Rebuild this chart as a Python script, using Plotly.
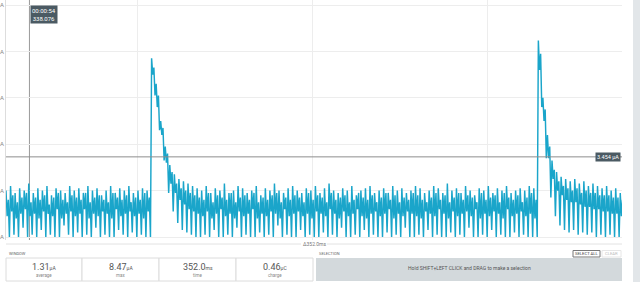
import plotly.graph_objects as go

# ---------------- data ----------------
cycle_ms = 2.6  # period of the repeating current pattern

cycle_peak_uA = [
    2.0, 2.2, 1.9, 2.1, 2.0, 2.3, 1.9, 2.1, 2.0, 2.2, 1.8, 2.1, 2.0, 1.9, 2.2, 2.0,
    2.1, 1.9, 2.2, 2.0, 2.1, 1.8, 2.0, 2.2, 1.9, 2.1, 2.0, 2.2, 1.9, 2.0, 2.1, 2.0,
    7.7, 6.6, 5.0, 3.9, 3.1, 2.7, 2.5, 2.4, 2.3, 2.2,
    2.1, 2.0, 2.2, 1.9, 2.1, 2.0, 2.3, 1.9, 2.0, 2.2, 2.1, 1.9, 2.0, 2.2, 1.8, 2.1, 2.0, 2.3, 2.0, 1.9, 2.1, 2.2, 2.0, 1.9, 2.1,
    2.0, 2.2, 1.9, 2.1, 2.3, 2.0, 1.9, 2.1, 2.0, 2.2, 1.8, 2.0, 2.1, 2.2, 1.9, 2.0, 2.1, 1.9, 2.2, 2.0, 2.1, 1.9, 2.0, 2.2, 2.1,
    1.9, 2.0, 2.2, 2.1, 1.9, 2.3, 2.0, 2.1, 1.9, 2.2, 2.0, 1.8, 2.1, 2.0, 2.2, 1.9, 2.1, 2.0, 2.2, 1.9, 2.0, 2.1, 2.0, 2.2, 2.1,
    8.47, 6.0, 4.4, 3.3, 2.8, 2.6, 2.5, 2.4, 2.5, 2.3, 2.4, 2.2, 2.3, 2.2, 2.1, 2.2, 2.0, 2.1, 1.9,
]
cycle_plateau_a_uA = [
    0.9, 1.1, 0.8, 1.0, 1.2, 0.9, 1.0, 0.8, 1.1, 1.0, 0.9, 1.2, 0.8, 1.0, 1.1, 0.9,
    1.0, 1.2, 0.8, 1.0, 0.9, 1.1, 1.0, 0.8, 1.2, 0.9, 1.0, 1.1, 0.9, 1.0, 0.8, 1.1,
    7.0, 5.6, 4.4, 3.2, 2.3, 1.9, 1.6, 1.4, 1.2, 1.1,
    1.0, 0.9, 1.1, 0.8, 1.0, 1.2, 0.9, 1.0, 0.8, 1.1, 0.9, 1.0, 1.2, 0.8, 1.0, 0.9, 1.1, 1.0, 0.8, 1.2, 0.9, 1.0, 1.1, 0.9, 1.0,
    0.8, 1.1, 1.0, 0.9, 1.2, 1.0, 0.8, 1.1, 0.9, 1.0, 1.2, 0.9, 0.8, 1.0, 1.1, 0.9, 1.0, 1.2, 0.8, 1.0, 0.9, 1.1, 1.0, 0.9, 0.8,
    1.1, 1.0, 0.9, 1.2, 1.0, 0.8, 1.1, 0.9, 1.0, 1.1, 0.9, 1.2, 0.8, 1.0, 0.9, 1.1, 1.0, 0.8, 1.2, 0.9, 1.0, 1.1, 0.9, 1.0, 0.8,
    7.2, 5.0, 3.4, 2.5, 2.0, 1.8, 1.6, 1.5, 1.5, 1.4, 1.3, 1.3, 1.2, 1.2, 1.1, 1.1, 1.0, 1.0, 0.9,
]
cycle_plateau_b_uA = [
    1.6, 1.8, 1.5, 1.7, 1.9, 1.5, 1.7, 1.6, 1.8, 1.4, 1.7, 1.9, 1.6, 1.5, 1.8, 1.7,
    1.6, 1.9, 1.5, 1.7, 1.8, 1.6, 1.5, 1.9, 1.7, 1.6, 1.8, 1.5, 1.7, 1.6, 1.9, 1.7,
    7.3, 6.1, 4.7, 3.6, 2.8, 2.3, 2.1, 2.0, 1.9, 1.8,
    1.7, 1.6, 1.9, 1.5, 1.8, 1.7, 1.6, 1.9, 1.5, 1.7, 1.8, 1.6, 1.9, 1.5, 1.7, 1.6, 1.8, 1.9, 1.5, 1.7, 1.6, 1.8, 1.7, 1.5, 1.9,
    1.6, 1.8, 1.7, 1.5, 1.9, 1.6, 1.7, 1.8, 1.5, 1.6, 1.9, 1.7, 1.6, 1.8, 1.5, 1.7, 1.9, 1.6, 1.8, 1.5, 1.7, 1.6, 1.9, 1.8, 1.6,
    1.5, 1.7, 1.9, 1.6, 1.8, 1.5, 1.7, 1.9, 1.6, 1.8, 1.7, 1.5, 1.9, 1.6, 1.7, 1.8, 1.5, 1.9, 1.7, 1.6, 1.8, 1.5, 1.7, 1.9, 1.6,
    7.9, 5.5, 3.9, 2.9, 2.4, 2.2, 2.1, 2.0, 2.1, 1.9, 2.0, 1.9, 1.9, 1.8, 1.8, 1.8, 1.7, 1.7, 1.6,
]
cycle_floor_uA = [
    0.0, 0.1, 0.0, 0.4, 0.0, 0.1, 0.0, 0.3, 0.0, 0.1, 0.0, 0.0, 0.5, 0.1, 0.0, 0.2,
    0.0, 0.1, 0.0, 0.4, 0.0, 0.1, 0.0, 0.0, 0.3, 0.1, 0.0, 0.2, 0.0, 0.1, 0.0, 0.0,
    6.1, 4.6, 3.3, 1.9, 1.1, 0.6, 0.3, 0.2, 0.1, 0.0,
    0.0, 0.1, 0.0, 0.3, 0.0, 0.0, 0.1, 0.0, 0.4, 0.0, 0.1, 0.0, 0.0, 0.2, 0.0, 0.1, 0.0, 0.5, 0.0, 0.1, 0.0, 0.0, 0.3, 0.0, 0.1,
    0.0, 0.0, 0.2, 0.0, 0.1, 0.0, 0.4, 0.0, 0.0, 0.1, 0.0, 0.3, 0.0, 0.1, 0.0, 0.0, 0.2, 0.0, 0.1, 0.0, 0.4, 0.0, 0.0, 0.1, 0.0,
    0.3, 0.0, 0.1, 0.0, 0.0, 0.2, 0.0, 0.1, 0.0, 0.4, 0.0, 0.0, 0.1, 0.0, 0.3, 0.0, 0.1, 0.0, 0.0, 0.2, 0.0, 0.1, 0.0, 0.0, 0.0,
    5.6, 3.4, 1.7, 0.9, 0.5, 0.3, 0.2, 0.3, 0.1, 0.2, 0.1, 0.2, 0.0, 0.1, 0.0, 0.1, 0.0, 0.0, 0.0,
]

y_tick_values = [0, 2, 4, 6, 8, 10]
y_tick_labels = ["0 µA", "2 µA", "4 µA", "6 µA", "8 µA", "10 µA"]
x_grid_ms = [75, 175, 275]
window_ms = 352.0

cursor_time_ms = 13.4
cursor_time_label = "00:00:54<br>338.076"
cursor_level_uA = 3.454
cursor_level_label = "3.454 µA"
delta_label = "Δ352.0ms"

stat_values = ["1.31", "8.47", "352.0", "0.46"]
stat_units = ["µA", "µA", "ms", "µC"]
stat_names = ["average", "max", "time", "charge"]

# ---------------- build samples ----------------
t, cur = [], []
for k in range(len(cycle_peak_uA)):
    base = k * cycle_ms
    for j, v in enumerate((cycle_peak_uA[k], cycle_plateau_a_uA[k],
                           cycle_plateau_b_uA[k], cycle_floor_uA[k])):
        t.append(base + j * cycle_ms / 4)
        cur.append(v)

FONT = "Roboto"
W, H = 640, 282
L, R = 6, 622
TOP, BOT = 0, 240


def px(x):
    return (x - L) / (R - L)


def py(y):
    return (BOT - y) / (BOT - TOP)


def label(x, y, text, size, color, xanchor="center"):
    return dict(x=px(x), y=py(y), xref="paper", yref="paper", text=text, showarrow=False,
                xanchor=xanchor, yanchor="middle", font=dict(family=FONT, size=size, color=color))


fig = go.Figure()
fig.add_trace(go.Scatter(x=t, y=cur, mode="lines",
                         line=dict(color="#1aa5ca", width=1.45),
                         hoverinfo="skip", showlegend=False))

shapes = []
annotations = []

# cursors
shapes.append(dict(type="line", xref="x", yref="paper", x0=cursor_time_ms, x1=cursor_time_ms,
                   y0=0, y1=1, line=dict(color="#9a9a9a", width=1), layer="below"))
shapes.append(dict(type="line", xref="paper", yref="y", x0=0, x1=1, y0=cursor_level_uA,
                   y1=cursor_level_uA, line=dict(color="#8e8e8e", width=1), layer="above"))
annotations.append(dict(x=cursor_time_ms, xref="x", y=py(5), yref="paper", xanchor="left",
                        yanchor="top", xshift=1, text=cursor_time_label, showarrow=False,
                        bgcolor="#4b5a63", borderpad=1,
                        font=dict(family=FONT, size=6, color="white"), align="center"))
annotations.append(dict(x=px(621), xref="paper", y=cursor_level_uA, yref="y", xanchor="right",
                        yanchor="middle", text=cursor_level_label, showarrow=False,
                        bgcolor="#4b5a63", borderpad=1,
                        font=dict(family=FONT, size=5.5, color="white")))

# delta line
shapes.append(dict(type="line", xref="paper", yref="paper", x0=px(6), x1=px(301), y0=py(244), y1=py(244),
                   line=dict(color="#e2e2e2", width=1)))
shapes.append(dict(type="line", xref="paper", yref="paper", x0=px(327), x1=px(622), y0=py(244), y1=py(244),
                   line=dict(color="#e2e2e2", width=1)))
annotations.append(label(314, 244, delta_label, 5, "#777"))

# window stats
annotations.append(label(7, 253, "WINDOW", 4, "#666", "left"))
box_edges = [6, 82, 159, 236, 313]
for i in range(4):
    x0, x1 = box_edges[i], box_edges[i + 1]
    shapes.append(dict(type="rect", xref="paper", yref="paper", x0=px(x0), x1=px(x1),
                       y0=py(281), y1=py(258), line=dict(color="#dcdcdc", width=1), fillcolor="white"))
    cx = (x0 + x1) / 2
    annotations.append(label(cx, 266.5,
                             f"{stat_values[i]}<span style='font-size:5px'>{stat_units[i]}</span>",
                             9, "#555"))
    annotations.append(label(cx, 275, stat_names[i], 4.5, "#888"))

# selection panel
annotations.append(label(317, 253, "SELECTION", 4, "#666", "left"))
shapes.append(dict(type="rect", xref="paper", yref="paper", x0=px(316), x1=px(622),
                   y0=py(281), y1=py(258), line=dict(width=0), fillcolor="#d3d9dc"))
annotations.append(label(469, 268, "Hold SHIFT+LEFT CLICK and DRAG to make a selection", 5, "#555"))
shapes.append(dict(type="rect", xref="paper", yref="paper", x0=px(573), x1=px(600),
                   y0=py(257), y1=py(250.5), line=dict(color="#777", width=1), fillcolor="white"))
annotations.append(label(586.5, 253.8, "SELECT ALL", 4.2, "#444"))
shapes.append(dict(type="rect", xref="paper", yref="paper", x0=px(602), x1=px(621),
                   y0=py(257), y1=py(250.5), line=dict(color="#e6e6e6", width=1), fillcolor="white"))
annotations.append(label(611.5, 253.8, "CLEAR", 4.2, "#bbb"))

# right side strip
shapes.append(dict(type="rect", xref="paper", yref="paper", x0=px(633), x1=px(641),
                   y0=py(283), y1=py(-1), line=dict(width=0), fillcolor="#e2e6e9"))

y_lo = -(BOT - 237) / 23.2
y_hi = 10 + 5 / 23.2

fig.update_layout(
    width=W, height=H,
    margin=dict(l=L, r=W - R, t=TOP, b=H - BOT, autoexpand=False),
    paper_bgcolor="white", plot_bgcolor="white",
    font=dict(family=FONT),
    shapes=shapes, annotations=annotations,
    xaxis=dict(range=[0, window_ms], tickvals=x_grid_ms, showticklabels=False, showgrid=True,
               gridcolor="#ededed", gridwidth=1, zeroline=False, showline=False, ticks="",
               automargin=False),
    yaxis=dict(range=[y_lo, y_hi], tickvals=y_tick_values, ticktext=y_tick_labels,
               showgrid=True, gridcolor="#ededed", gridwidth=1, zeroline=False,
               showline=True, linecolor="#dddddd", linewidth=1, ticks="", automargin=False,
               tickfont=dict(family=FONT, size=6, color="#888")),
)

fig.write_html("out.html")
